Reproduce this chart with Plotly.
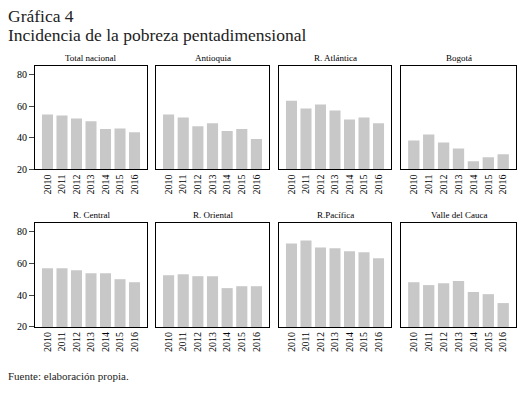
import plotly.graph_objects as go

years = ["2010", "2011", "2012", "2013", "2014", "2015", "2016"]

panel_titles = ["Total nacional", "Antioquia", "R. Atlántica", "Bogotá",
                "R. Central", "R. Oriental", "R.Pacífica", "Valle del Cauca"]

total_nacional = [54.8, 54.2, 52.3, 50.6, 45.6, 46.0, 43.6]
antioquia = [54.8, 52.9, 47.3, 49.2, 44.4, 45.6, 39.2]
r_atlantica = [63.6, 58.6, 61.1, 57.3, 51.7, 52.9, 49.2]
bogota = [38.3, 42.1, 37.1, 33.3, 25.2, 27.7, 29.6]
r_central = [56.9, 56.9, 55.6, 53.8, 53.8, 50.0, 48.1]
r_oriental = [52.5, 53.1, 51.9, 51.9, 44.4, 45.6, 45.6]
r_pacifica = [72.5, 74.4, 70.0, 69.4, 67.5, 66.9, 63.1]
valle_del_cauca = [48.1, 46.3, 47.5, 48.8, 41.9, 40.6, 35.0]

series = [total_nacional, antioquia, r_atlantica, bogota,
          r_central, r_oriental, r_pacifica, valle_del_cauca]

y_ticks = [20, 40, 60, 80]

W, H = 520, 394
FONT = "Liberation Serif"
cols_px = [(35, 147), (156, 269), (279, 391), (401, 516)]
rows_px = [(67, 172), (226, 332)]

fig = go.Figure()
layout = {}
annotations = []
for i, (title, vals) in enumerate(zip(panel_titles, series)):
    r, c = divmod(i, 4)
    n = i + 1
    xa = "x" if n == 1 else f"x{n}"
    ya = "y" if n == 1 else f"y{n}"
    fig.add_trace(go.Bar(x=years, y=vals, xaxis=xa, yaxis=ya,
                         marker=dict(color="#c8c8c8", line=dict(width=0)),
                         showlegend=False, hoverinfo="x+y"))
    x0, x1 = cols_px[c]
    y0, y1 = rows_px[r]
    xkey = "xaxis" if n == 1 else f"xaxis{n}"
    ykey = "yaxis" if n == 1 else f"yaxis{n}"
    layout[xkey] = dict(domain=[x0 / W, x1 / W], anchor=ya,
                        range=[-0.86, 6.86], type="category",
                        showline=True, mirror=True, linecolor="black", linewidth=1,
                        ticks="", tickangle=-90, showgrid=False, zeroline=False,
                        tickfont=dict(family=FONT, size=10, color="black"))
    layout[ykey] = dict(domain=[1 - y1 / H, 1 - y0 / H], anchor=xa,
                        range=[20, 85.6], tickvals=y_ticks,
                        showline=True, mirror=True, linecolor="black", linewidth=1,
                        showgrid=False, zeroline=False,
                        ticks="outside" if c == 0 else "", ticklen=5,
                        showticklabels=(c == 0),
                        tickfont=dict(family=FONT, size=10, color="black"))
    annotations.append(dict(text=title, x=(x0 + x1) / 2 / W, y=1 - (y0 - 1) / H,
                            xref="paper", yref="paper", xanchor="center", yanchor="bottom",
                            showarrow=False,
                            font=dict(family=FONT, size=9, color="black")))

annotations.append(dict(text="Gráfica 4", x=6 / W, y=1 - 4 / H, xref="paper", yref="paper",
                        xanchor="left", yanchor="top", showarrow=False,
                        font=dict(family=FONT, size=17.5, color="#222")))
annotations.append(dict(text="Incidencia de la pobreza pentadimensional", x=6 / W, y=1 - 23 / H,
                        xref="paper", yref="paper", xanchor="left", yanchor="top",
                        showarrow=False, font=dict(family=FONT, size=17.5, color="#222")))
annotations.append(dict(text="Fuente: elaboración propia.", x=6 / W, y=1 - 374 / H,
                        xref="paper", yref="paper", xanchor="left", yanchor="top",
                        showarrow=False, font=dict(family=FONT, size=11, color="#222")))

fig.update_layout(width=W, height=H, margin=dict(l=0, r=0, t=0, b=0),
                  paper_bgcolor="white", plot_bgcolor="white",
                  bargap=0.24, annotations=annotations, **layout)

fig.write_html("out.html", config={"displayModeBar": False},
               post_script="document.body.style.margin='0';document.body.style.overflow='hidden';")
